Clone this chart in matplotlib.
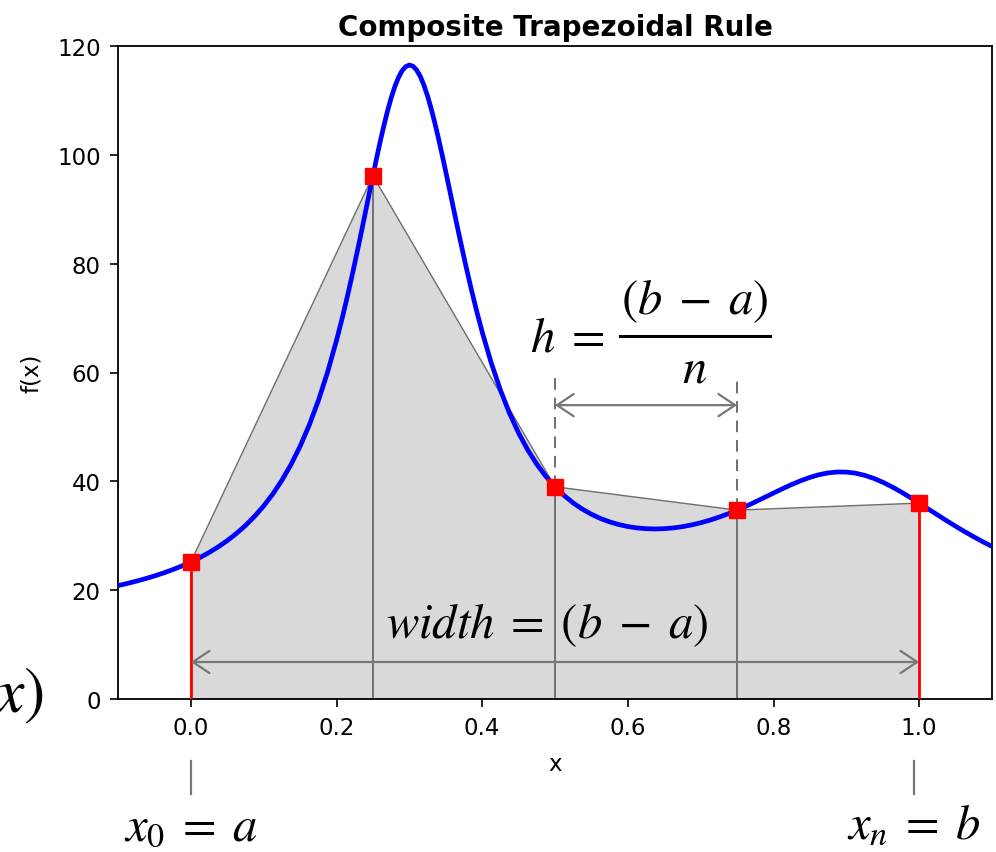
import matplotlib
matplotlib.use("Agg")
import matplotlib.pyplot as plt
from matplotlib.lines import Line2D

# f(x) sampled along the plotted range
curve_x = [-0.1, -0.0875, -0.075, -0.0625, -0.05, -0.0375, -0.025, -0.0125,
           0.0, 0.0125, 0.025, 0.0375, 0.05, 0.0625, 0.075, 0.0875,
           0.1, 0.1125, 0.125, 0.1375, 0.15, 0.1625, 0.175, 0.1875,
           0.2, 0.2075, 0.215, 0.2225, 0.23, 0.235, 0.24, 0.245,
           0.25, 0.255, 0.26, 0.265, 0.27, 0.275, 0.28, 0.285,
           0.29, 0.295, 0.3, 0.305, 0.31, 0.315, 0.32, 0.325,
           0.33, 0.335, 0.34, 0.345, 0.35, 0.355, 0.36, 0.365,
           0.37, 0.3775, 0.385, 0.3925, 0.4, 0.4125, 0.425, 0.4375,
           0.45, 0.4625, 0.475, 0.4875, 0.5, 0.5125, 0.525, 0.5375,
           0.55, 0.5625, 0.575, 0.5875, 0.6, 0.6125, 0.625, 0.6375,
           0.65, 0.6625, 0.675, 0.6875, 0.7, 0.7125, 0.725, 0.7375,
           0.75, 0.7625, 0.775, 0.7875, 0.8, 0.8125, 0.825, 0.8375,
           0.85, 0.8625, 0.875, 0.8875, 0.9, 0.9125, 0.925, 0.9375,
           0.95, 0.9625, 0.975, 0.9875, 1.0, 1.0125, 1.025, 1.0375,
           1.05, 1.0625, 1.075, 1.0875, 1.1]
curve_y = [20.84, 21.23, 21.65, 22.11, 22.61, 23.16, 23.77, 24.43,
           25.18, 26.00, 26.92, 27.95, 29.10, 30.41, 31.88, 33.56,
           35.47, 37.66, 40.18, 43.08, 46.43, 50.31, 54.79, 59.96,
           65.89, 69.82, 74.02, 78.48, 83.16, 86.37, 89.63, 92.91,
           96.16, 99.35, 102.43, 105.34, 108.03, 110.44, 112.51, 114.19,
           115.44, 116.21, 116.50, 116.29, 115.59, 114.42, 112.81, 110.82,
           108.48, 105.87, 103.03, 100.03, 96.92, 93.74, 90.55, 87.36,
           84.23, 79.67, 75.33, 71.25, 67.45, 61.74, 56.79, 52.53,
           48.89, 45.79, 43.15, 40.90, 39.00, 37.39, 36.03, 34.89,
           33.95, 33.17, 32.55, 32.06, 31.69, 31.44, 31.30, 31.25,
           31.30, 31.44, 31.67, 31.99, 32.38, 32.86, 33.41, 34.02,
           34.71, 35.44, 36.22, 37.03, 37.85, 38.65, 39.42, 40.12,
           40.73, 41.22, 41.55, 41.72, 41.70, 41.50, 41.11, 40.55,
           39.84, 39.00, 38.07, 37.06, 36.00, 34.92, 33.85, 32.78,
           31.75, 30.75, 29.80, 28.89, 28.04]

# trapezoid nodes (n = 4 sub-intervals on [a, b] = [0, 1])
node_x = [0.0, 0.25, 0.5, 0.75, 1.0]
node_y = [25.18, 96.16, 39.00, 34.71, 36.00]

x_ticks = [0.0, 0.2, 0.4, 0.6, 0.8, 1.0]
y_ticks = [0, 20, 40, 60, 80, 100, 120]

plt.rcParams["mathtext.fontset"] = "stix"

W, H = 996, 853
fig = plt.figure(figsize=(W / 100, H / 100), dpi=100)
ax = fig.add_axes([118 / W, 1 - 700 / H, (992 - 118) / W, (700 - 47) / H])


def fx(px):
    return px / W


def fy(py):
    return 1 - py / H


# shaded trapezoids
poly_x = [node_x[0]] + node_x + [node_x[-1]]
poly_y = [0] + node_y + [0]
ax.fill(poly_x, poly_y, facecolor="#d9d9d9", edgecolor="#6e6e6e", lw=1.0, zorder=1)

# interior node verticals
for xi, yi in zip(node_x[1:-1], node_y[1:-1]):
    ax.plot([xi, xi], [0, yi], color="#555555", lw=1.1, zorder=2)

# function curve
ax.plot(curve_x, curve_y, color="blue", lw=3.4, zorder=3,
        solid_joinstyle="round", solid_capstyle="butt")

# end-point verticals x0 = a and xn = b
for xi, yi in ((node_x[0], node_y[0]), (node_x[-1], node_y[-1])):
    ax.plot([xi, xi], [0, yi], color="red", lw=2.0, zorder=4)

ax.plot(node_x, node_y, ls="none", marker="s", ms=11, color="red", zorder=5)

# step size h between two neighbouring nodes
for xi, yi, top in ((node_x[2], node_y[2], 59.7), (node_x[3], node_y[3], 58.8)):
    ax.plot([xi, xi], [yi, top], color="#6e6e6e", lw=1.4, ls=(0, (6, 4)), zorder=4)

arrow = dict(arrowstyle="<->,head_length=0.6,head_width=0.4", color="#777777",
             lw=1.6, shrinkA=0, shrinkB=0, mutation_scale=20)
ax.annotate("", xy=(node_x[2], 54.0), xytext=(node_x[3], 54.0), arrowprops=arrow, zorder=6)
ax.annotate("", xy=(node_x[0], 6.8), xytext=(node_x[-1], 6.8), arrowprops=arrow, zorder=6)

ax.set_xlim(-0.1, 1.1)
ax.set_ylim(0, 120)
ax.set_xticks(x_ticks)
ax.set_xticklabels([f"{v:.1f}" for v in x_ticks])
ax.set_yticks(y_ticks)
ax.tick_params(labelsize=16.5, length=6, width=1.2, pad=6.5)
for sp in ax.spines.values():
    sp.set_linewidth(1.3)
ax.set_xlabel("x", fontsize=16.5, labelpad=9)
ax.set_ylabel("f(x)", fontsize=16.5, labelpad=10)
ax.set_title("Composite Trapezoidal Rule", fontsize=20, fontweight="bold", pad=8)

# h = (b - a) / n
fs = 35
fig.text(fx(530), fy(352), r"$h\;=$", fontsize=fs, ha="left", va="baseline")
fig.text(fx(695), fy(314), r"$(b\;-\;a)$", fontsize=fs, ha="center", va="baseline")
fig.add_artist(Line2D([fx(620), fx(770)], [fy(337), fy(337)],
                      transform=fig.transFigure, color="black", lw=2.2))
fig.text(fx(695), fy(383), r"$n$", fontsize=fs, ha="center", va="baseline")

# width = (b - a)
fig.text(fx(547), fy(638), r"$width\;=\;(b\;-\;a)$", fontsize=fs, ha="center", va="baseline")

# end-point markers below the axis
for px in (191, 914):
    fig.add_artist(Line2D([fx(px), fx(px)], [fy(762), fy(795)],
                          transform=fig.transFigure, color="#777777", lw=1.6))
fig.text(fx(191), fy(840), r"$x_0\;=\;a$", fontsize=fs, ha="center", va="baseline")
fig.text(fx(914), fy(838), r"$x_n\;=\;b$", fontsize=fs, ha="center", va="baseline")
fig.text(fx(44), fy(712), r"$f(x)$", fontsize=46, ha="right", va="baseline")

fig.savefig("out.png", dpi=100)
